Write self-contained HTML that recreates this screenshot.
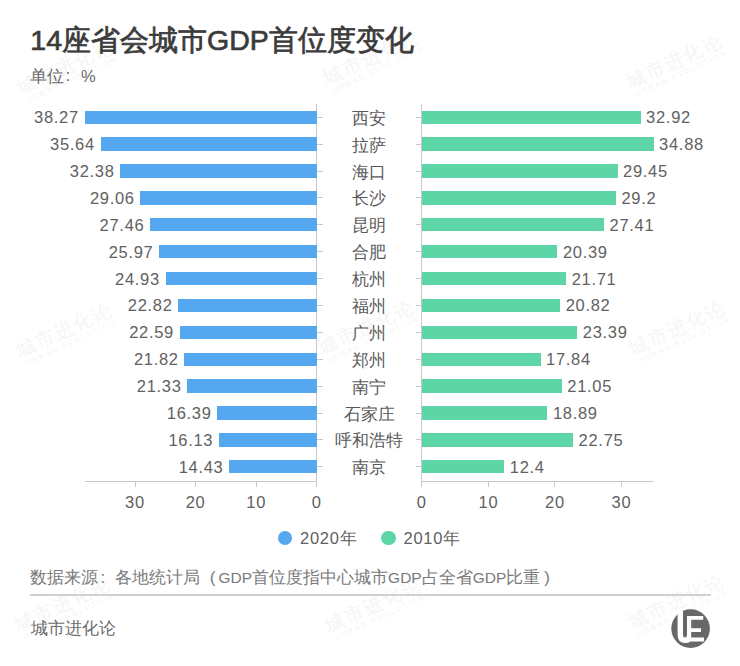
<!DOCTYPE html>
<html><head><meta charset="utf-8">
<style>
html,body{margin:0;padding:0;background:#fff;}
body{width:740px;height:666px;position:relative;overflow:hidden;font-family:"Liberation Sans",sans-serif;}
.a{position:absolute;}
.t{position:absolute;white-space:nowrap;line-height:1;}
.title{left:30.3px;top:25.6px;font-size:28.5px;font-weight:normal;-webkit-text-stroke:0.7px #3b3b3b;color:#3b3b3b;}
.unit{left:30px;top:67.5px;font-size:16.5px;color:#6a6a6a;}
.bl{background:#55a8ef;}
.gr{background:#5dd5a6;}
.num{font-size:16.5px;letter-spacing:0.7px;color:#616161;}
.nm{font-size:17px;color:#595959;}
.ax{background:#c8c8c8;}
.g{font-size:15.5px;}
.tk{font-size:16.5px;letter-spacing:0.7px;color:#616161;}
.wm{position:absolute;color:rgba(0,0,0,0.055);transform:rotate(-25deg);white-space:nowrap;line-height:1;text-align:center;}
.wm b{display:block;font-size:19px;font-weight:bold;letter-spacing:2px;}
.wm i{display:block;font-size:8px;font-weight:bold;font-style:normal;letter-spacing:1.5px;margin-top:1px;}
</style></head><body>
<div class="wm" style="left:8px;top:57px;width:120px;"><b>城市进化论</b><i>URBAN EVOLUTION</i></div>
<div class="wm" style="left:314px;top:47px;width:120px;"><b>城市进化论</b><i>URBAN EVOLUTION</i></div>
<div class="wm" style="left:617px;top:51px;width:120px;"><b>城市进化论</b><i>URBAN EVOLUTION</i></div>
<div class="wm" style="left:7px;top:320px;width:120px;"><b>城市进化论</b><i>URBAN EVOLUTION</i></div>
<div class="wm" style="left:309px;top:317px;width:120px;"><b>城市进化论</b><i>URBAN EVOLUTION</i></div>
<div class="wm" style="left:620px;top:318px;width:120px;"><b>城市进化论</b><i>URBAN EVOLUTION</i></div>
<div class="wm" style="left:5px;top:594px;width:120px;"><b>城市进化论</b><i>URBAN EVOLUTION</i></div>
<div class="wm" style="left:316px;top:595px;width:120px;"><b>城市进化论</b><i>URBAN EVOLUTION</i></div>
<div class="wm" style="left:619px;top:591px;width:120px;"><b>城市进化论</b><i>URBAN EVOLUTION</i></div>
<div class="t title">14座省会城市GDP首位度变化</div>
<div class="t unit">单位</div><div class="t unit" style="left:65.5px;top:67px;font-size:17px;">:</div><div class="t unit" style="left:81px;top:68px;font-size:16.5px;">%</div>
<div class="a ax" style="left:316.3px;top:104px;width:1px;height:383px;"></div>
<div class="a ax" style="left:421.0px;top:104px;width:1px;height:383px;"></div>
<div class="a ax" style="left:85px;top:480.5px;width:231.8px;height:1px;"></div>
<div class="a ax" style="left:421.5px;top:480.5px;width:232.0px;height:1px;"></div>
<div class="a ax" style="left:255.7px;top:481px;width:1px;height:6px;"></div>
<div class="a ax" style="left:487.9px;top:481px;width:1px;height:6px;"></div>
<div class="a ax" style="left:195.1px;top:481px;width:1px;height:6px;"></div>
<div class="a ax" style="left:554.4px;top:481px;width:1px;height:6px;"></div>
<div class="a ax" style="left:134.5px;top:481px;width:1px;height:6px;"></div>
<div class="a ax" style="left:621.0px;top:481px;width:1px;height:6px;"></div>
<div class="t tk" style="left:276.8px;width:80px;text-align:center;top:493.5px;">0</div>
<div class="t tk" style="left:381.8px;width:80px;text-align:center;top:493.5px;">0</div>
<div class="t tk" style="left:216.2px;width:80px;text-align:center;top:493.5px;">10</div>
<div class="t tk" style="left:448.4px;width:80px;text-align:center;top:493.5px;">10</div>
<div class="t tk" style="left:155.6px;width:80px;text-align:center;top:493.5px;">20</div>
<div class="t tk" style="left:514.9px;width:80px;text-align:center;top:493.5px;">20</div>
<div class="t tk" style="left:95.0px;width:80px;text-align:center;top:493.5px;">30</div>
<div class="t tk" style="left:581.5px;width:80px;text-align:center;top:493.5px;">30</div>
<div class="a ax" style="left:316.8px;top:116.7px;width:6px;height:1px;"></div>
<div class="a ax" style="left:415.5px;top:116.7px;width:6px;height:1px;"></div>
<div class="a bl" style="left:84.5px;top:110.5px;width:232.3px;height:13.4px;"></div>
<div class="t num" style="right:661.2px;top:109.2px;">38.27</div>
<div class="a gr" style="left:422.0px;top:110.5px;width:218.6px;height:13.4px;"></div>
<div class="t num" style="left:646.1px;top:109.2px;">32.92</div>
<div class="t nm" style="left:309.3px;width:120px;text-align:center;top:109.7px;">西安</div>
<div class="a ax" style="left:316.8px;top:143.6px;width:6px;height:1px;"></div>
<div class="a ax" style="left:415.5px;top:143.6px;width:6px;height:1px;"></div>
<div class="a bl" style="left:100.5px;top:137.4px;width:216.3px;height:13.4px;"></div>
<div class="t num" style="right:645.2px;top:136.1px;">35.64</div>
<div class="a gr" style="left:422.0px;top:137.4px;width:231.6px;height:13.4px;"></div>
<div class="t num" style="left:659.1px;top:136.1px;">34.88</div>
<div class="t nm" style="left:309.3px;width:120px;text-align:center;top:136.6px;">拉萨</div>
<div class="a ax" style="left:316.8px;top:170.5px;width:6px;height:1px;"></div>
<div class="a ax" style="left:415.5px;top:170.5px;width:6px;height:1px;"></div>
<div class="a bl" style="left:120.3px;top:164.3px;width:196.5px;height:13.4px;"></div>
<div class="t num" style="right:625.4px;top:163.0px;">32.38</div>
<div class="a gr" style="left:422.0px;top:164.3px;width:195.5px;height:13.4px;"></div>
<div class="t num" style="left:623.0px;top:163.0px;">29.45</div>
<div class="t nm" style="left:309.3px;width:120px;text-align:center;top:163.5px;">海口</div>
<div class="a ax" style="left:316.8px;top:197.4px;width:6px;height:1px;"></div>
<div class="a ax" style="left:415.5px;top:197.4px;width:6px;height:1px;"></div>
<div class="a bl" style="left:140.4px;top:191.2px;width:176.4px;height:13.4px;"></div>
<div class="t num" style="right:605.3px;top:189.9px;">29.06</div>
<div class="a gr" style="left:422.0px;top:191.2px;width:193.9px;height:13.4px;"></div>
<div class="t num" style="left:621.4px;top:189.9px;">29.2</div>
<div class="t nm" style="left:309.3px;width:120px;text-align:center;top:190.4px;">长沙</div>
<div class="a ax" style="left:316.8px;top:224.3px;width:6px;height:1px;"></div>
<div class="a ax" style="left:415.5px;top:224.3px;width:6px;height:1px;"></div>
<div class="a bl" style="left:150.1px;top:218.1px;width:166.7px;height:13.4px;"></div>
<div class="t num" style="right:595.6px;top:216.8px;">27.46</div>
<div class="a gr" style="left:422.0px;top:218.1px;width:182.0px;height:13.4px;"></div>
<div class="t num" style="left:609.5px;top:216.8px;">27.41</div>
<div class="t nm" style="left:309.3px;width:120px;text-align:center;top:217.3px;">昆明</div>
<div class="a ax" style="left:316.8px;top:251.1px;width:6px;height:1px;"></div>
<div class="a ax" style="left:415.5px;top:251.1px;width:6px;height:1px;"></div>
<div class="a bl" style="left:159.2px;top:244.9px;width:157.6px;height:13.4px;"></div>
<div class="t num" style="right:586.5px;top:243.6px;">25.97</div>
<div class="a gr" style="left:422.0px;top:244.9px;width:135.4px;height:13.4px;"></div>
<div class="t num" style="left:562.9px;top:243.6px;">20.39</div>
<div class="t nm" style="left:309.3px;width:120px;text-align:center;top:244.1px;">合肥</div>
<div class="a ax" style="left:316.8px;top:278.0px;width:6px;height:1px;"></div>
<div class="a ax" style="left:415.5px;top:278.0px;width:6px;height:1px;"></div>
<div class="a bl" style="left:165.5px;top:271.8px;width:151.3px;height:13.4px;"></div>
<div class="t num" style="right:580.2px;top:270.5px;">24.93</div>
<div class="a gr" style="left:422.0px;top:271.8px;width:144.2px;height:13.4px;"></div>
<div class="t num" style="left:571.7px;top:270.5px;">21.71</div>
<div class="t nm" style="left:309.3px;width:120px;text-align:center;top:271.0px;">杭州</div>
<div class="a ax" style="left:316.8px;top:304.9px;width:6px;height:1px;"></div>
<div class="a ax" style="left:415.5px;top:304.9px;width:6px;height:1px;"></div>
<div class="a bl" style="left:178.3px;top:298.7px;width:138.5px;height:13.4px;"></div>
<div class="t num" style="right:567.4px;top:297.4px;">22.82</div>
<div class="a gr" style="left:422.0px;top:298.7px;width:138.2px;height:13.4px;"></div>
<div class="t num" style="left:565.7px;top:297.4px;">20.82</div>
<div class="t nm" style="left:309.3px;width:120px;text-align:center;top:297.9px;">福州</div>
<div class="a ax" style="left:316.8px;top:331.8px;width:6px;height:1px;"></div>
<div class="a ax" style="left:415.5px;top:331.8px;width:6px;height:1px;"></div>
<div class="a bl" style="left:179.7px;top:325.6px;width:137.1px;height:13.4px;"></div>
<div class="t num" style="right:566.0px;top:324.3px;">22.59</div>
<div class="a gr" style="left:422.0px;top:325.6px;width:155.3px;height:13.4px;"></div>
<div class="t num" style="left:582.8px;top:324.3px;">23.39</div>
<div class="t nm" style="left:309.3px;width:120px;text-align:center;top:324.8px;">广州</div>
<div class="a ax" style="left:316.8px;top:358.7px;width:6px;height:1px;"></div>
<div class="a ax" style="left:415.5px;top:358.7px;width:6px;height:1px;"></div>
<div class="a bl" style="left:184.4px;top:352.5px;width:132.4px;height:13.4px;"></div>
<div class="t num" style="right:561.3px;top:351.2px;">21.82</div>
<div class="a gr" style="left:422.0px;top:352.5px;width:118.5px;height:13.4px;"></div>
<div class="t num" style="left:546.0px;top:351.2px;">17.84</div>
<div class="t nm" style="left:309.3px;width:120px;text-align:center;top:351.7px;">郑州</div>
<div class="a ax" style="left:316.8px;top:385.6px;width:6px;height:1px;"></div>
<div class="a ax" style="left:415.5px;top:385.6px;width:6px;height:1px;"></div>
<div class="a bl" style="left:187.3px;top:379.4px;width:129.5px;height:13.4px;"></div>
<div class="t num" style="right:558.4px;top:378.1px;">21.33</div>
<div class="a gr" style="left:422.0px;top:379.4px;width:139.8px;height:13.4px;"></div>
<div class="t num" style="left:567.3px;top:378.1px;">21.05</div>
<div class="t nm" style="left:309.3px;width:120px;text-align:center;top:378.6px;">南宁</div>
<div class="a ax" style="left:316.8px;top:412.5px;width:6px;height:1px;"></div>
<div class="a ax" style="left:415.5px;top:412.5px;width:6px;height:1px;"></div>
<div class="a bl" style="left:217.3px;top:406.3px;width:99.5px;height:13.4px;"></div>
<div class="t num" style="right:528.4px;top:405.0px;">16.39</div>
<div class="a gr" style="left:422.0px;top:406.3px;width:125.4px;height:13.4px;"></div>
<div class="t num" style="left:552.9px;top:405.0px;">18.89</div>
<div class="t nm" style="left:309.3px;width:120px;text-align:center;top:405.5px;">石家庄</div>
<div class="a ax" style="left:316.8px;top:439.4px;width:6px;height:1px;"></div>
<div class="a ax" style="left:415.5px;top:439.4px;width:6px;height:1px;"></div>
<div class="a bl" style="left:218.9px;top:433.2px;width:97.9px;height:13.4px;"></div>
<div class="t num" style="right:526.8px;top:431.9px;">16.13</div>
<div class="a gr" style="left:422.0px;top:433.2px;width:151.1px;height:13.4px;"></div>
<div class="t num" style="left:578.6px;top:431.9px;">22.75</div>
<div class="t nm" style="left:309.3px;width:120px;text-align:center;top:432.4px;">呼和浩特</div>
<div class="a ax" style="left:316.8px;top:466.3px;width:6px;height:1px;"></div>
<div class="a ax" style="left:415.5px;top:466.3px;width:6px;height:1px;"></div>
<div class="a bl" style="left:229.2px;top:460.1px;width:87.6px;height:13.4px;"></div>
<div class="t num" style="right:516.5px;top:458.8px;">14.43</div>
<div class="a gr" style="left:422.0px;top:460.1px;width:82.3px;height:13.4px;"></div>
<div class="t num" style="left:509.8px;top:458.8px;">12.4</div>
<div class="t nm" style="left:309.3px;width:120px;text-align:center;top:459.3px;">南京</div>
<div class="a bl" style="left:277.5px;top:530.8px;width:14.5px;height:14.5px;border-radius:50%;"></div>
<div class="t num" style="left:300px;top:530px;">2020年</div>
<div class="a gr" style="left:381px;top:530.8px;width:14.5px;height:14.5px;border-radius:50%;"></div>
<div class="t num" style="left:403.5px;top:530px;">2010年</div>
<div class="t" style="left:29.5px;top:568.5px;font-size:17px;color:#7a7a7a;">数据来源<span style="display:inline-block;width:17px;text-indent:3px">:</span>各地统计局<span style="display:inline-block;width:19px;text-align:right;padding-right:3px;box-sizing:border-box">(</span><span class="g">GDP</span>首位度指中心城市<span class="g">GDP</span>占全省<span class="g">GDP</span>比重<span style="display:inline-block;width:17px;text-indent:4px">)</span></div>
<div class="a" style="left:29.5px;top:594px;width:681px;height:1.5px;background:#d0d0d0;"></div>
<div class="t" style="left:30.5px;top:620px;font-size:17px;color:#6c6c6c;">城市进化论</div>
<svg class="a" style="left:671px;top:609px;" width="40" height="40" viewBox="0 0 40 40">
<circle cx="19.6" cy="19.6" r="19.3" fill="#686868"/>
<path fill="#fff" d="M6.6 0 H12 V25.5 Q12 28.5 14 28.5 Q16 28.5 16 25.5 V7 H32.2 V10.8 H20.2 V19.3 H30 V23 H20.2 V28.6 H33 V32.5 H19.5 Q17.5 34 14 34 Q6.6 34 6.6 25.5 Z"/>
</svg>
</body></html>
